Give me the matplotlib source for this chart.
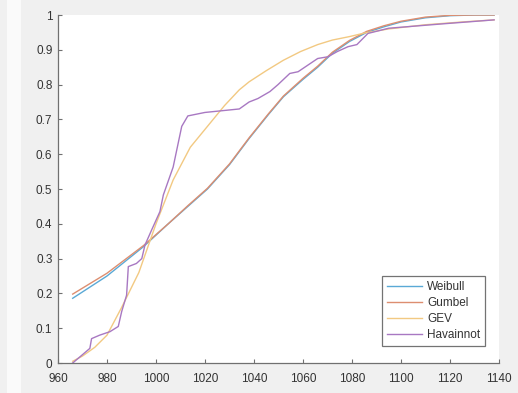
import matplotlib
matplotlib.use("Agg")
import matplotlib.pyplot as plt
from matplotlib.patches import Rectangle

# values
weibull_x = [966, 980, 995, 1005, 1013, 1021, 1030, 1038, 1046, 1052, 1060, 1066,
             1072, 1079, 1086, 1093, 1100, 1110, 1120, 1130, 1138]
weibull_p = [0.186, 0.25, 0.335, 0.40, 0.45, 0.50, 0.57, 0.645, 0.715, 0.765, 0.815, 0.85,
             0.89, 0.924, 0.95, 0.966, 0.98, 0.992, 0.998, 1.0, 1.0]

gumbel_x = [966, 980, 995, 1005, 1013, 1021, 1030, 1038, 1046, 1052, 1060, 1066,
            1072, 1079, 1086, 1093, 1100, 1110, 1120, 1130, 1138]
gumbel_p = [0.198, 0.258, 0.338, 0.40, 0.452, 0.502, 0.572, 0.647, 0.717, 0.767, 0.818, 0.853,
            0.893, 0.927, 0.953, 0.969, 0.982, 0.994, 0.999, 1.0, 1.0]

gev_x = [966, 970, 975, 980, 986, 993, 997, 1000, 1007, 1014, 1021, 1028, 1034, 1038,
         1045, 1052, 1059, 1066, 1072, 1079, 1085, 1095, 1110, 1125, 1138]
gev_p = [0.005, 0.02, 0.045, 0.08, 0.16, 0.26, 0.34, 0.40, 0.526, 0.62, 0.68, 0.74, 0.785, 0.808,
         0.84, 0.87, 0.895, 0.915, 0.928, 0.938, 0.948, 0.96, 0.972, 0.98, 0.986]

obs_x = [966, 973, 973.7, 977, 981.2, 984.6, 986, 988, 988.7, 992, 994.2, 995.5, 998.2,
         1001.6, 1003, 1007, 1010.5, 1013, 1020, 1027, 1034, 1038, 1041.6, 1046.5, 1049.8,
         1054.6, 1058, 1066, 1070.2, 1074, 1078.4, 1082, 1086.5, 1095, 1116, 1138]
obs_p = [0.0, 0.042, 0.07, 0.08, 0.09, 0.105, 0.148, 0.195, 0.277, 0.286, 0.30, 0.339, 0.382,
         0.435, 0.483, 0.563, 0.68, 0.71, 0.72, 0.725, 0.73, 0.75, 0.76, 0.78, 0.80,
         0.832, 0.837, 0.875, 0.88, 0.895, 0.909, 0.915, 0.947, 0.962, 0.974, 0.986]

xticks = [960, 980, 1000, 1020, 1040, 1060, 1080, 1100, 1120, 1140]
yticks = [0, 0.1, 0.2, 0.3, 0.4, 0.5, 0.6, 0.7, 0.8, 0.9, 1]
ytick_labels = ["0", "0.1", "0.2", "0.3", "0.4", "0.5", "0.6", "0.7", "0.8", "0.9", "1"]

plt.rcParams['font.family'] = ['Liberation Sans', 'DejaVu Sans']

fig = plt.figure(figsize=(5.18, 3.93), dpi=100, facecolor='#f0f0f0')
# light strip at the left edge of the screenshot
fig.patches.append(Rectangle((7 / 518, 0), 14 / 518, 1, transform=fig.transFigure,
                             facecolor='#fafafa', edgecolor='none', zorder=-1))

ax = fig.add_axes([58 / 518, 30 / 393, 441 / 518, 348 / 393])
ax.set_facecolor('white')

ax.plot(weibull_x, weibull_p, color='#5aa9d6', lw=1.0, label='Weibull')
ax.plot(gumbel_x, gumbel_p, color='#dd8e70', lw=1.0, label='Gumbel')
ax.plot(gev_x, gev_p, color='#f2c982', lw=1.0, label='GEV')
ax.plot(obs_x, obs_p, color='#a878c2', lw=1.0, label='Havainnot')

ax.set_xlim(960, 1140)
ax.set_ylim(0, 1)
ax.set_xticks(xticks)
ax.set_yticks(yticks)
ax.set_yticklabels(ytick_labels)

for s in ['top', 'right']:
    ax.spines[s].set_visible(False)
for s in ['left', 'bottom']:
    ax.spines[s].set_color('#707070')
    ax.spines[s].set_linewidth(0.9)
ax.tick_params(direction='in', length=3, width=0.8, color='#707070',
               labelsize=8.5, labelcolor='#333333')
ax.tick_params(axis='x', pad=7)
ax.tick_params(axis='y', pad=4)

leg = ax.legend(loc='lower right', bbox_to_anchor=(0.968, 0.049), borderaxespad=0,
                fontsize=8.5, frameon=True, fancybox=False, handlelength=3.0,
                handletextpad=0.4, labelspacing=0.35, borderpad=0.4)
leg.get_frame().set_edgecolor('#505050')
leg.get_frame().set_linewidth(0.9)
for t in leg.get_texts():
    t.set_color('#333333')

fig.savefig('out.png', dpi=100, facecolor=fig.get_facecolor())
